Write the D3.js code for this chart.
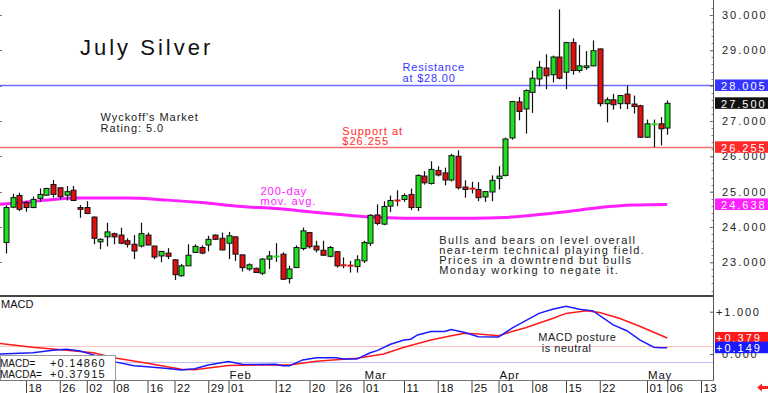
<!DOCTYPE html>
<html>
<head>
<meta charset="utf-8">
<script src="https://cdn.jsdelivr.net/npm/d3@7/dist/d3.min.js"></script>
<style>
  body { margin: 0; background: #fff; }
  svg { display: block; font-family: "Liberation Sans", Arial, sans-serif; }
</style>
</head>
<body>
<svg id="chart" width="768" height="393"></svg>
<script>
// trading days on the chart (Dec 13 2023 .. May 6 2024)
const days = [
  "2023-12-13","2023-12-14","2023-12-15","2023-12-18","2023-12-19","2023-12-20","2023-12-21","2023-12-22","2023-12-26","2023-12-27","2023-12-28","2023-12-29",
  "2024-01-02","2024-01-03","2024-01-04","2024-01-05","2024-01-08","2024-01-09","2024-01-10","2024-01-11","2024-01-12","2024-01-16","2024-01-17","2024-01-18","2024-01-19","2024-01-22","2024-01-23","2024-01-24","2024-01-25","2024-01-26","2024-01-29","2024-01-30","2024-01-31",
  "2024-02-01","2024-02-02","2024-02-05","2024-02-06","2024-02-07","2024-02-08","2024-02-09","2024-02-12","2024-02-13","2024-02-14","2024-02-15","2024-02-16","2024-02-20","2024-02-21","2024-02-22","2024-02-23","2024-02-26","2024-02-27","2024-02-28","2024-02-29",
  "2024-03-01","2024-03-04","2024-03-05","2024-03-06","2024-03-07","2024-03-08","2024-03-11","2024-03-12","2024-03-13","2024-03-14","2024-03-15","2024-03-18","2024-03-19","2024-03-20","2024-03-21","2024-03-22","2024-03-25","2024-03-26","2024-03-27","2024-03-28",
  "2024-04-01","2024-04-02","2024-04-03","2024-04-04","2024-04-05","2024-04-08","2024-04-09","2024-04-10","2024-04-11","2024-04-12","2024-04-15","2024-04-16","2024-04-17","2024-04-18","2024-04-19","2024-04-22","2024-04-23","2024-04-24","2024-04-25","2024-04-26","2024-04-29","2024-04-30",
  "2024-05-01","2024-05-02","2024-05-03","2024-05-06"
];
// empty days to the right of the last bar
const futureDays = ["2024-05-07","2024-05-08","2024-05-09","2024-05-10","2024-05-13"];

const opens  = [23.56,24.56,24.89,24.69,24.55,24.81,24.90,25.20,25.11,24.90,25.04,24.55,
  24.55,24.28,23.58,23.72,23.81,23.77,23.61,23.51,23.46,23.77,23.46,23.18,23.26,23.07,22.62,22.90,23.28,23.42,23.49,23.77,23.68,
  23.54,23.72,23.21,22.81,22.83,22.69,23.09,23.16,23.23,22.54,22.85,23.39,23.84,23.46,23.34,23.17,23.30,22.92,22.91,22.88,
  23.04,23.54,24.34,24.08,24.59,24.76,24.78,24.92,24.55,25.44,25.23,25.60,25.53,25.33,26.00,25.13,25.09,25.06,24.85,24.99,
  25.37,25.46,26.52,27.54,27.34,27.81,28.19,28.50,28.31,28.81,28.38,29.22,28.43,28.51,28.56,29.04,27.49,27.60,27.49,27.76,27.48,27.43,
  26.54,26.90,26.92,26.80];
const highs  = [24.61,24.94,24.97,24.73,24.86,25.09,25.11,25.33,25.12,25.16,25.16,24.62,
  24.73,24.30,23.68,24.12,23.84,23.98,23.68,23.77,24.12,23.84,23.47,23.32,23.40,23.09,22.95,23.51,23.51,23.48,23.75,23.79,23.84,
  23.86,23.73,23.22,22.97,22.85,23.12,23.32,23.54,23.28,22.90,23.48,23.98,23.86,23.61,23.61,23.46,23.32,23.14,23.04,23.20,
  23.61,24.36,24.64,24.73,24.89,25.04,24.95,25.09,25.49,25.58,25.86,25.72,25.68,26.07,26.17,25.32,25.28,25.27,25.02,25.46,
  25.72,26.53,27.57,27.68,27.90,28.43,28.70,28.89,28.85,30.16,29.24,29.34,29.15,28.98,29.28,29.05,27.67,27.77,27.74,28.00,27.72,27.46,
  27.04,27.04,27.11,27.58];
const lows   = [23.25,24.53,24.45,24.43,24.53,24.72,24.88,24.83,24.78,24.75,24.73,24.26,
  24.37,23.51,23.37,23.45,23.51,23.51,23.42,23.09,23.42,23.48,23.09,23.00,23.09,22.50,22.59,22.90,23.28,23.23,23.31,23.63,23.34,
  23.09,23.04,22.74,22.76,22.70,22.64,22.81,23.01,22.50,22.40,22.84,23.34,23.39,23.28,23.18,23.14,22.85,22.83,22.71,22.71,
  22.98,23.46,24.05,24.05,24.42,24.59,24.71,24.48,24.45,25.20,25.20,25.43,25.18,25.29,25.06,24.83,24.95,24.73,24.71,24.73,
  25.06,25.43,26.47,27.02,26.64,27.23,27.98,27.90,28.09,28.18,27.90,28.31,28.37,28.45,28.55,27.41,26.96,27.32,27.34,27.34,27.21,26.52,
  26.52,26.26,26.31,26.61];
const closes = [24.55,24.83,24.50,24.55,24.78,24.92,25.09,24.92,24.86,25.00,24.75,24.50,
  24.38,23.68,23.65,23.86,23.72,23.54,23.51,23.32,23.81,23.49,23.15,23.31,23.17,22.65,22.90,23.20,23.45,23.26,23.65,23.65,23.35,
  23.75,23.23,22.85,22.93,22.71,23.09,23.18,23.17,22.52,22.81,23.42,23.89,23.44,23.35,23.20,23.42,22.90,22.91,22.90,23.07,
  23.56,24.33,24.10,24.58,24.75,24.74,24.89,24.55,25.46,25.25,25.63,25.47,25.33,26.02,25.11,25.06,25.08,24.83,25.00,25.32,
  25.44,26.49,27.55,27.27,27.86,28.21,28.52,28.28,28.81,28.21,29.22,28.43,28.56,28.56,28.99,27.49,27.60,27.46,27.72,27.49,27.41,26.54,
  26.92,26.91,26.78,27.50];

// 200-day moving average, read at these bar indices
const maIdx = [-1,4,7,11,18,24,29,35,40,45,49,54,59,64,69,74,78,83,88,93,98];
const maVal = [24.64,24.72,24.78,24.82,24.82,24.76,24.69,24.58,24.52,24.43,24.36,24.28,24.25,24.25,24.25,24.27,24.33,24.43,24.55,24.62,24.638];

// MACD (blue) and signal (red)
const macdIdx = [-1,4,7,9,11,13,16,19,21,24,26,28,30,33,35,37,40,41,42,44,46,49,50,52,54,55,57,59,60,61,63,65,66,68,70,73,75,79,81,83,85,87,90,92,94,96,97,98];
const macdVal = [0.00,0.03,0.09,0.11,0.07,-0.02,-0.18,-0.28,-0.30,-0.34,-0.38,-0.35,-0.26,-0.18,-0.24,-0.25,-0.24,-0.28,-0.28,-0.14,-0.09,-0.09,-0.12,-0.12,0.03,0.08,0.23,0.33,0.35,0.45,0.53,0.53,0.58,0.51,0.41,0.40,0.61,0.96,1.06,1.13,1.06,1.02,0.69,0.55,0.33,0.16,0.15,0.1486];
const signalIdx = [-1,4,9,13,16,21,26,28,30,33,37,42,46,52,56,59,63,66,68,70,73,75,77,81,83,86,88,91,94,98];
const signalVal = [0.25,0.16,0.09,0.03,-0.09,-0.22,-0.36,-0.37,-0.33,-0.27,-0.26,-0.26,-0.17,-0.10,0.00,0.16,0.33,0.43,0.49,0.47,0.43,0.53,0.62,0.84,0.96,1.02,0.98,0.84,0.65,0.379];

// axis labels (28.000 sits under the resistance box, so it only gets a tick)
const priceTicks = [23,24,25,26,27,28,29,30];
const priceLabels = [23,24,25,26,27,29,30];
const macdTicks = [0,1];
const dateTicks = ["2023-12-18","2023-12-26","2024-01-02","2024-01-08","2024-01-16","2024-01-22","2024-01-29","2024-02-01","2024-02-12","2024-02-20","2024-02-26",
  "2024-03-01","2024-03-11","2024-03-18","2024-03-25","2024-04-01","2024-04-08","2024-04-15","2024-04-22","2024-05-01","2024-05-06","2024-05-13"];
const monthTicks = ["2024-02-01","2024-03-01","2024-04-01","2024-05-01"];
const monthNames = ["Feb","Mar","Apr","May"];

// reference levels
const resistance = 28.005, support = 26.255, lastPrice = 27.50, maLast = 24.638;
const macdLast = 0.149, signalLast = 0.379;
const macdBands = [0.18, -0.18];

const colors = {
  up: "#1ee01e", down: "#e01010", wick: "#111",
  resist: "#6c6cff", resistBox: "#3535ff",
  support: "#ff6c6c", supportBox: "#ff2a2a",
  ma: "#ff20ff", macd: "#1a1aff", signal: "#ff1a1a", axis: "#555"
};

const svg = d3.select("#chart");
const allDays = days.concat(futureDays);
const idxOf = d => allDays.indexOf(d);

const right = 713;
const x = d3.scaleLinear().domain([0, 103]).range([5.75, 701]);
const y = d3.scaleLinear().domain([23, 30]).range([262.3, 15]);
const ym = d3.scaleLinear().domain([0, 1]).range([354, 311.7]);

const defs = svg.append("defs");
defs.append("clipPath").attr("id", "clipMain")
  .append("rect").attr("x", 0).attr("y", 0).attr("width", right).attr("height", 295);
defs.append("clipPath").attr("id", "clipMacd")
  .append("rect").attr("x", 0).attr("y", 297).attr("width", right).attr("height", 83);

// ---------- main panel ----------
const main = svg.append("g").attr("clip-path", "url(#clipMain)");

// small ticks on the left edge
main.selectAll(".ltick").data(priceTicks).enter().append("line")
  .attr("x1", 0).attr("x2", 2)
  .attr("y1", d => Math.round(y(d)) + 0.5).attr("y2", d => Math.round(y(d)) + 0.5)
  .attr("stroke", "#777");

// resistance / support
main.append("line").attr("x1", 0).attr("x2", right)
  .attr("y1", Math.round(y(resistance)) + 0.5).attr("y2", Math.round(y(resistance)) + 0.5)
  .attr("stroke", colors.resist).attr("stroke-width", 1.3);
main.append("line").attr("x1", 0).attr("x2", right)
  .attr("y1", Math.round(y(support)) + 0.5).attr("y2", Math.round(y(support)) + 0.5)
  .attr("stroke", colors.support).attr("stroke-width", 1.3);

// 200-day moving average
main.append("path")
  .datum(maIdx.map((d, i) => [d, maVal[i]]))
  .attr("fill", "none").attr("stroke", colors.ma).attr("stroke-width", 3)
  .attr("d", d3.line().x(d => x(d[0])).y(d => y(d[1])).curve(d3.curveMonotoneX));

// candles
const candles = days.map((d, i) => ({ i, o: opens[i], h: highs[i], l: lows[i], c: closes[i] }));
const cx = d => Math.round(x(d.i)) + 0.5;

main.selectAll(".wick").data(candles).enter().append("line")
  .attr("x1", cx).attr("x2", cx)
  .attr("y1", d => y(d.h)).attr("y2", d => y(d.l))
  .attr("stroke", colors.wick).attr("stroke-width", 1.2);

const solid = candles.filter(d => Math.abs(y(d.o) - y(d.c)) >= 1.5);
const flat = candles.filter(d => Math.abs(y(d.o) - y(d.c)) < 1.5);

main.selectAll(".body").data(solid).enter().append("rect")
  .attr("x", d => cx(d) - 2.5)
  .attr("y", d => y(Math.max(d.o, d.c)))
  .attr("width", 5)
  .attr("height", d => Math.abs(y(d.o) - y(d.c)))
  .attr("fill", d => d.c >= d.o ? colors.up : colors.down)
  .attr("stroke", "#111").attr("stroke-width", 1);

main.selectAll(".doji").data(flat).enter().append("line")
  .attr("x1", d => cx(d) - 3).attr("x2", d => cx(d) + 3)
  .attr("y1", d => y((d.o + d.c) / 2)).attr("y2", d => y((d.o + d.c) / 2))
  .attr("stroke", d => d.c >= d.o ? colors.up : colors.down).attr("stroke-width", 2);

// annotations
const note = (g, lines, x0, y0, color, size, spacing, lh) => {
  const t = g.append("text").attr("x", x0).attr("y", y0).attr("fill", color)
    .attr("font-size", size).attr("letter-spacing", spacing);
  lines.forEach((s, k) => t.append("tspan").attr("x", x0).attr("y", y0 + k * lh).text(s));
};
svg.append("text").attr("x", 80).attr("y", 55).attr("font-size", 22)
  .attr("letter-spacing", 3).attr("fill", "#111").text("July Silver");
note(svg, ["Wyckoff's Market", "Rating: 5.0"], 100.5, 121, "#222", 11, 0.95, 10.5);
note(svg, ["Resistance", "at $28.00"], 402.5, 71, colors.resistBox, 11, 0.8, 10.5);
note(svg, ["Support at", "$26.255"], 342.3, 134.5, colors.supportBox, 11, 1.0, 10.2);
note(svg, ["200-day", "mov. avg."], 260.5, 194.5, colors.ma, 11, 1.0, 10.3);
note(svg, ["Bulls and bears on level overall", "near-term technical playing field.",
  "Prices in a downtrend but bulls", "Monday working to negate it."], 439.3, 243.5, "#222", 11, 1.4, 10.3);

// price axis
const yAxis = d3.axisRight(y).tickValues(priceTicks).tickSizeInner(-3).tickSizeOuter(0)
  .tickPadding(9).tickFormat(d => priceLabels.includes(d) ? d3.format(".3f")(d) : "");
const gy = svg.append("g").attr("transform", `translate(${right},0)`).call(yAxis);
gy.select(".domain").remove();
gy.selectAll(".tick line").attr("stroke", colors.axis);
gy.selectAll(".tick text").attr("font-size", 11).attr("letter-spacing", 2)
  .attr("fill", "#222").attr("font-family", "Liberation Sans, Arial, sans-serif");

// minor ticks on the price axis
const minor = d3.range(22.2, 30.4, 0.2);
svg.selectAll(".mtick").data(minor).enter().append("line")
  .attr("x1", right - 1.5).attr("x2", right)
  .attr("y1", d => Math.round(y(d)) + 0.5).attr("y2", d => Math.round(y(d)) + 0.5)
  .attr("stroke", "#888");

// value boxes on the price axis
const box = (val, scale, fill, label) => {
  const yy = scale(val);
  svg.append("rect").attr("x", 715).attr("y", yy - 6).attr("width", 53).attr("height", 11.5).attr("fill", fill);
  svg.append("text").attr("x", 716).attr("y", yy + 4.3).attr("fill", "#fff").attr("font-size", 11)
    .attr("letter-spacing", 2).attr("xml:space", "preserve").text(label);
};
box(resistance, y, colors.resistBox, " 28.005");
box(lastPrice, y, "#111", " 27.500");
box(support, y, colors.supportBox, " 26.255");
box(maLast, y, "#ff20ff", " 24.638");

// panel separators and right axis line
svg.append("rect").attr("x", 0).attr("y", 295).attr("width", right).attr("height", 2).attr("fill", "#444");
svg.append("line").attr("x1", right + 0.5).attr("x2", right + 0.5).attr("y1", 0).attr("y2", 381)
  .attr("stroke", colors.axis);

// ---------- MACD panel ----------
const macdG = svg.append("g").attr("clip-path", "url(#clipMacd)");
macdG.selectAll(".band").data(macdBands).enter().append("line")
  .attr("x1", 0).attr("x2", right)
  .attr("y1", d => Math.round(ym(d)) + 0.5).attr("y2", d => Math.round(ym(d)) + 0.5)
  .attr("stroke", (d, i) => i === 0 ? "#ffc0c0" : "#c0c0ff");

const mline = d3.line().x(d => x(d[0])).y(d => ym(d[1]));
macdG.append("path").datum(signalIdx.map((d, i) => [d, signalVal[i]]))
  .attr("fill", "none").attr("stroke", colors.signal).attr("stroke-width", 1.5).attr("d", mline);
macdG.append("path").datum(macdIdx.map((d, i) => [d, macdVal[i]]))
  .attr("fill", "none").attr("stroke", colors.macd).attr("stroke-width", 1.5).attr("d", mline);

svg.append("text").attr("x", 1).attr("y", 308).attr("font-size", 11).attr("fill", "#111").text("MACD");
note(svg, ["MACD posture", " is neutral"], 538.3, 341, "#222", 11, 0.5, 10.8);

// readout box
svg.append("rect").attr("x", 0.5).attr("y", 355.5).attr("width", 115).attr("height", 25)
  .attr("fill", "#fff").attr("stroke", "#999");
const readout = svg.append("g").attr("font-size", 11).attr("fill", "#111");
readout.append("text").attr("x", 0).attr("y", 366.5).attr("font-size", 10).text("MACD=");
readout.append("text").attr("x", 50).attr("y", 366.5).attr("letter-spacing", 1.2).text("+0.14860");
readout.append("text").attr("x", 0).attr("y", 377.5).attr("font-size", 10).text("MACDA=");
readout.append("text").attr("x", 50).attr("y", 377.5).attr("letter-spacing", 1.2).text("+0.37915");

// MACD axis
const mAxis = d3.axisRight(ym).tickValues(macdTicks).tickSizeInner(-3).tickSizeOuter(0)
  .tickPadding(9).tickFormat(d => d === 0 ? "0.000" : "+1.000");
const gm = svg.append("g").attr("transform", `translate(${right},0)`).call(mAxis);
gm.select(".domain").remove();
gm.selectAll(".tick line").attr("stroke", colors.axis);
gm.selectAll(".tick text").attr("font-size", 11).attr("letter-spacing", 1.8)
  .attr("fill", "#222").attr("font-family", "Liberation Sans, Arial, sans-serif")
  .attr("x", d => d === 0 ? 9 : 3);
box(signalLast, ym, colors.signal, "+0.379");
box(macdLast, ym, colors.macd, "+0.149");

// ---------- date axis ----------
svg.append("line").attr("x1", 0).attr("x2", right + 1).attr("y1", 380.5).attr("y2", 380.5).attr("stroke", "#777");
const xAxis = d3.axisBottom(x).tickValues(dateTicks.map(idxOf)).tickSize(12)
  .tickFormat(i => allDays[i].slice(8));
const gx = svg.append("g").attr("transform", "translate(0,381)").call(xAxis);
gx.select(".domain").remove();
gx.selectAll(".tick line").attr("stroke", "#444");
gx.selectAll(".tick text").attr("x", 2).attr("y", 11).attr("dy", 0)
  .attr("text-anchor", "start").attr("font-size", 11.5).attr("letter-spacing", 0.4)
  .attr("fill", "#111").attr("font-family", "Liberation Sans, Arial, sans-serif");

svg.selectAll(".month").data(monthTicks).enter().append("text")
  .attr("x", d => x(idxOf(d)) + 1).attr("y", 379)
  .attr("font-size", 11.5).attr("letter-spacing", 0.8).attr("fill", "#111")
  .text((d, i) => monthNames[i]);

// little red arrow in the corner
svg.append("path").attr("d", "M757,387.5 L762,383.5 L762,386 L768,386 L768,389 L762,389 L762,391.5 Z")
  .attr("fill", "#ff2020");
</script>
</body>
</html>
